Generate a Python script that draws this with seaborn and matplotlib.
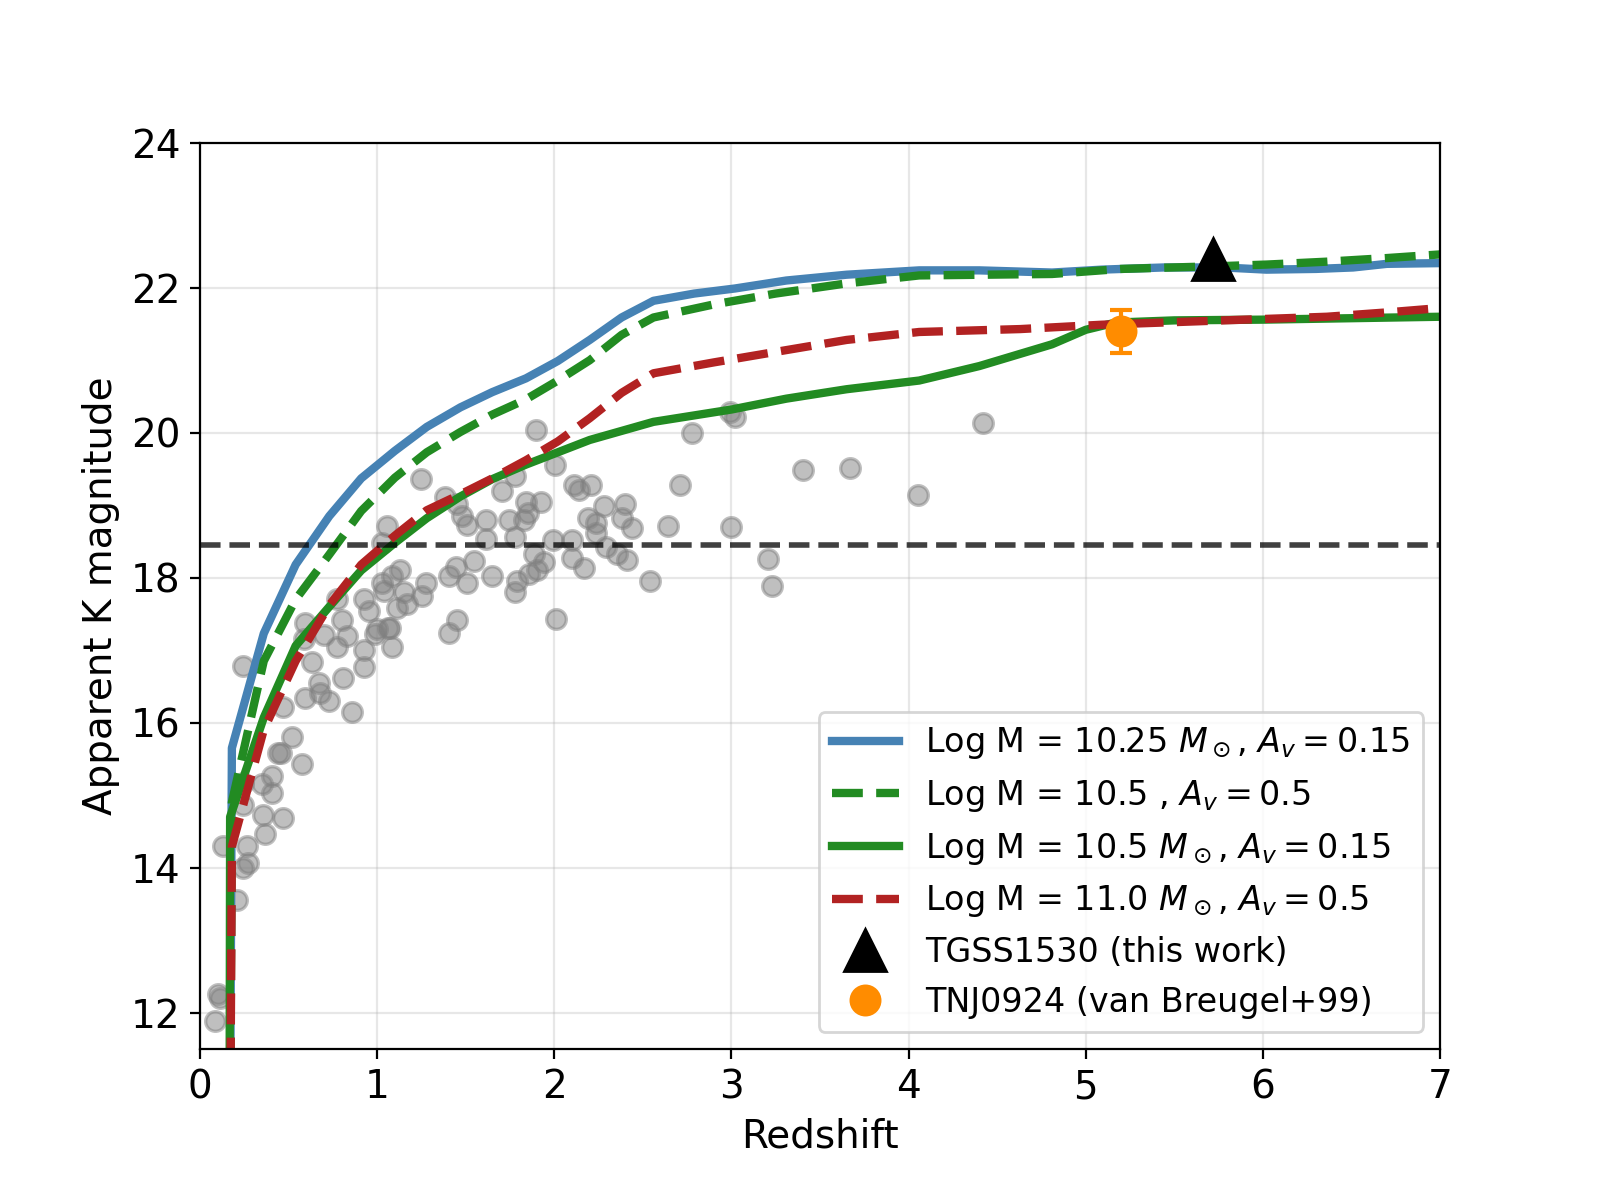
import matplotlib
matplotlib.use("Agg")
import matplotlib.pyplot as plt
import seaborn as sns
import numpy as np

# model tracks (redshift, apparent K mag)
z_m1025_av015 = [0.165, 0.18, 0.36, 0.54, 0.73, 0.91, 1.1, 1.28, 1.47, 1.65, 1.84, 2.02, 2.2, 2.38,
                 2.56, 2.79, 3.02, 3.31, 3.65, 4.06, 4.4, 4.81, 5.09, 5.44, 5.78, 6.02, 6.3, 6.51, 6.7, 7.0]
k_m1025_av015 = [8.0, 15.65, 17.23, 18.18, 18.85, 19.37, 19.75, 20.08, 20.35, 20.56, 20.75, 20.99, 21.28, 21.59,
                 21.82, 21.92, 21.99, 22.1, 22.18, 22.24, 22.24, 22.21, 22.25, 22.28, 22.28, 22.25, 22.26, 22.28, 22.33, 22.34]

z_m105_av05 = [0.165, 0.18, 0.36, 0.54, 0.73, 0.91, 1.1, 1.28, 1.47, 1.65, 1.84, 2.02, 2.2, 2.38,
               2.56, 2.9, 3.25, 3.65, 4.06, 4.81, 5.2, 5.78, 6.02, 6.36, 6.7, 7.0]
k_m105_av05 = [8.0, 14.9, 16.85, 17.7, 18.32, 18.92, 19.38, 19.73, 20.01, 20.25, 20.46, 20.72, 21.0, 21.35,
               21.59, 21.77, 21.92, 22.06, 22.17, 22.19, 22.26, 22.3, 22.32, 22.36, 22.41, 22.46]

z_m105_av015 = [0.165, 0.17, 0.36, 0.54, 0.73, 0.91, 1.1, 1.28, 1.47, 1.65, 1.84, 2.02, 2.2, 2.56,
                3.0, 3.31, 3.65, 4.06, 4.4, 4.81, 5.0, 5.17, 5.5, 6.0, 7.0]
k_m105_av015 = [8.0, 14.7, 16.07, 17.06, 17.6, 18.1, 18.48, 18.82, 19.12, 19.36, 19.56, 19.73, 19.9, 20.15,
                20.32, 20.47, 20.6, 20.72, 20.92, 21.22, 21.42, 21.52, 21.55, 21.56, 21.6]

z_m110_av05 = [0.165, 0.18, 0.36, 0.54, 0.73, 0.91, 1.1, 1.28, 1.47, 1.65, 1.84, 2.02, 2.2, 2.38,
               2.56, 2.9, 3.31, 3.65, 4.06, 4.63, 5.09, 5.78, 6.36, 6.7, 7.0]
k_m110_av05 = [8.0, 14.29, 15.9, 16.85, 17.62, 18.18, 18.58, 18.93, 19.15, 19.37, 19.62, 19.88, 20.2, 20.55,
               20.82, 20.97, 21.14, 21.28, 21.39, 21.43, 21.49, 21.55, 21.6, 21.66, 21.72]

# literature radio galaxies
z_obs = [0.085, 0.104, 0.113, 0.207, 0.245, 0.273, 0.132, 0.264, 0.368, 0.358, 0.471, 0.245, 0.405,
         0.245, 0.35, 0.405, 0.575, 0.44, 0.46, 0.52, 0.245, 0.47, 0.594, 0.67, 0.68, 0.726, 0.81,
         0.858, 0.924, 0.63, 0.924, 0.585, 0.594, 0.698, 0.773, 0.83, 0.80, 0.773, 0.924, 0.952,
         0.99, 0.999, 1.075, 1.085, 1.057, 1.03, 1.13, 1.085, 1.03, 1.04, 1.15, 1.273, 1.255, 1.17,
         1.113, 1.245, 1.381, 1.453, 1.48, 1.509, 1.613, 1.613, 1.706, 1.777, 1.896, 2.005, 1.839,
         1.924, 1.745, 1.83, 1.85, 1.78, 1.99, 2.10, 2.10, 2.17, 2.11, 2.14, 2.207, 2.28, 2.40,
         2.19, 2.236, 2.236, 2.38, 2.44, 2.29, 2.355, 2.41, 1.886, 1.94, 1.905, 1.86, 1.79, 1.78,
         2.01, 1.65, 1.509, 1.547, 1.443, 1.405, 1.453, 1.405, 2.54, 2.64, 2.707, 2.78, 2.99, 3.02,
         2.996, 3.207, 3.23, 3.405, 3.67, 4.056, 4.42, 1.06]
k_obs = [11.89, 12.25, 12.2, 13.55, 14.0, 14.06, 14.30, 14.3, 14.46, 14.73, 14.68, 14.87, 15.03,
         15.17, 15.16, 15.26, 15.43, 15.58, 15.58, 15.80, 16.78, 16.22, 16.34, 16.55, 16.41, 16.3, 16.62,
         16.14, 16.77, 16.83, 17.0, 17.15, 17.38, 17.21, 17.05, 17.19, 17.42, 17.70, 17.70, 17.54,
         17.22, 17.29, 17.31, 17.05, 18.71, 18.48, 18.11, 18.02, 17.93, 17.82, 17.8, 17.93, 17.75, 17.64,
         17.58, 19.36, 19.12, 19.01, 18.85, 18.73, 18.80, 18.53, 19.19, 19.40, 20.04, 19.56, 19.04,
         19.04, 18.8, 18.8, 18.89, 18.56, 18.52, 18.52, 18.27, 18.14, 19.28, 19.21, 19.28, 18.99, 19.02,
         18.82, 18.75, 18.61, 18.82, 18.68, 18.43, 18.32, 18.25, 18.32, 18.22, 18.11, 18.05, 17.96, 17.8,
         17.43, 18.03, 17.93, 18.23, 18.15, 18.02, 17.42, 17.24, 17.96, 18.71, 19.28, 19.99, 20.29, 20.22,
         18.7, 18.26, 17.89, 19.48, 19.51, 19.14, 20.13, 17.3]

k_limit = 18.45

z_tgss, k_tgss = 5.72, 22.4
z_tnj, k_tnj, k_tnj_err = 5.2, 21.4, 0.3

fig, ax = plt.subplots(figsize=(8, 6), dpi=200)
plt.subplots_adjust(left=0.125, right=0.9, top=0.881, bottom=0.126)

sns.scatterplot(x=z_obs, y=k_obs, color="gray", alpha=0.5, s=50,
                edgecolor="gray", linewidth=1.2, ax=ax, zorder=1, legend=False)

sns.lineplot(x=z_m1025_av015, y=k_m1025_av015, color="steelblue", lw=3, ax=ax,
             label=r"Log M = 10.25 $M_\odot$, $A_v = 0.15$", zorder=2)
sns.lineplot(x=z_m105_av05, y=k_m105_av05, color="forestgreen", lw=3, ls="--", ax=ax,
             label=r"Log M = 10.5 , $A_v = 0.5$", zorder=2)
sns.lineplot(x=z_m105_av015, y=k_m105_av015, color="forestgreen", lw=3, ax=ax,
             label=r"Log M = 10.5 $M_\odot$, $A_v = 0.15$", zorder=2)
sns.lineplot(x=z_m110_av05, y=k_m110_av05, color="firebrick", lw=3, ls="--", ax=ax,
             label=r"Log M = 11.0 $M_\odot$, $A_v = 0.5$", zorder=2)

ax.axhline(k_limit, color="k", ls="--", lw=2, alpha=0.75, zorder=3)

ax.plot(z_tgss, k_tgss, "^", color="k", ms=15, label="TGSS1530 (this work)", zorder=5)
ax.errorbar(z_tnj, k_tnj, yerr=k_tnj_err, fmt="none", ecolor="darkorange",
            elinewidth=1.5, capsize=4, capthick=1.5, zorder=4)
ax.plot(z_tnj, k_tnj, "o", color="darkorange", ms=10.5, label="TNJ0924 (van Breugel+99)", zorder=5)

ax.set_xlim(0, 7)
ax.set_ylim(11.5, 24)
ax.set_yticks([12, 14, 16, 18, 20, 22, 24])
ax.grid(alpha=0.3)
ax.set_axisbelow(True)
ax.tick_params(labelsize=14)
ax.set_xlabel("Redshift", fontsize=14)
ax.set_ylabel("Apparent K magnitude", fontsize=14)
ax.legend(loc="lower right", fontsize=12)

fig.savefig("out.png", dpi=200)
